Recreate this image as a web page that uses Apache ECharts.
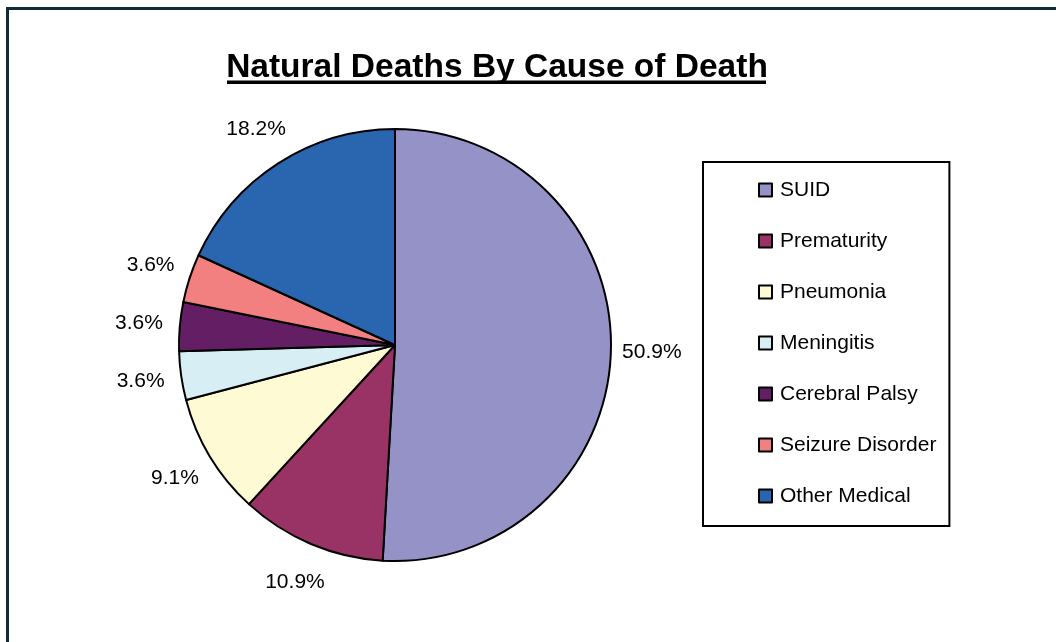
<!DOCTYPE html>
<html>
<head>
<meta charset="utf-8">
<script src="https://cdn.jsdelivr.net/npm/echarts@6/dist/echarts.min.js"></script>
<style>
  html, body { margin: 0; padding: 0; background: #fff; }
  #chart { position: absolute; left: 0; top: 0; width: 1056px; height: 642px; }
  #frame {
    position: absolute; left: 6px; top: 7px; right: -10px; bottom: -10px;
    border-left: 3px solid #0f2c3d; border-top: 3px solid #0f2c3d;
    pointer-events: none; z-index: 2;
  }
</style>
</head>
<body>
<div id="chart"></div>
<div id="frame"></div>
<script>
// causes of natural death, counts out of 55
const categories = ['SUID', 'Prematurity', 'Pneumonia', 'Meningitis', 'Cerebral Palsy', 'Seizure Disorder', 'Other Medical'];
const deaths = [28, 6, 5, 2, 2, 2, 10];
const colors = ['#9592c8', '#993366', '#fdfad4', '#d6eef4', '#631e64', '#f28080', '#2a65af'];

const total = deaths.reduce(function (a, b) { return a + b; }, 0);
const font = "'Liberation Sans', Arial, sans-serif";

var myChart = echarts.init(document.getElementById('chart'));
var option = {
  backgroundColor: '#fff',
  animation: false,
  color: colors,
  title: {
    text: 'Natural Deaths By Cause of Death',
    left: 492,
    top: 46,
    textAlign: 'center',
    textStyle: {
      fontFamily: font,
      fontSize: 33.5,
      fontWeight: 'bold',
      color: '#000'
    }
  },
  // underline of the title
  graphic: [
    {
      type: 'rect',
      shape: { x: 227, y: 80.5, width: 539, height: 3.5 },
      style: { fill: '#000' }
    }
  ],
  legend: {
    orient: 'vertical',
    left: 703,
    top: 162,
    padding: [17, 13, 19, 55],
    borderColor: '#000',
    borderWidth: 2,
    itemWidth: 13,
    itemHeight: 13,
    itemGap: 29,
    icon: 'rect',
    data: categories,
    textStyle: {
      fontFamily: font,
      fontSize: 21,
      lineHeight: 22,
      color: '#000',
      padding: [0, 0, 0, 3]
    }
  },
  series: [
    {
      type: 'pie',
      center: [395, 345],
      radius: 216,
      startAngle: 90,
      clockwise: true,
      avoidLabelOverlap: false,
      itemStyle: {
        borderColor: '#000',
        borderWidth: 2
      },
      label: {
        show: true,
        position: 'outside',
        distanceToLabelLine: 0,
        fontFamily: font,
        fontSize: 21,
        color: '#000',
        formatter: function (p) {
          return (p.value / total * 100).toFixed(1) + '%';
        }
      },
      labelLine: {
        show: false,
        length: 41,
        length2: 0
      },
      // centre each label on the end of its (hidden) label line
      labelLayout: function (p) {
        var r = p.labelRect;
        var ax = p.align === 'right' ? r.x + r.width : r.x;
        return { x: ax, y: r.y + r.height / 2, align: 'center', verticalAlign: 'middle' };
      },
      emphasis: { disabled: true },
      data: categories.map(function (name, i) {
        return { name: name, value: deaths[i] };
      })
    }
  ]
};
myChart.setOption(option);
</script>
</body>
</html>
